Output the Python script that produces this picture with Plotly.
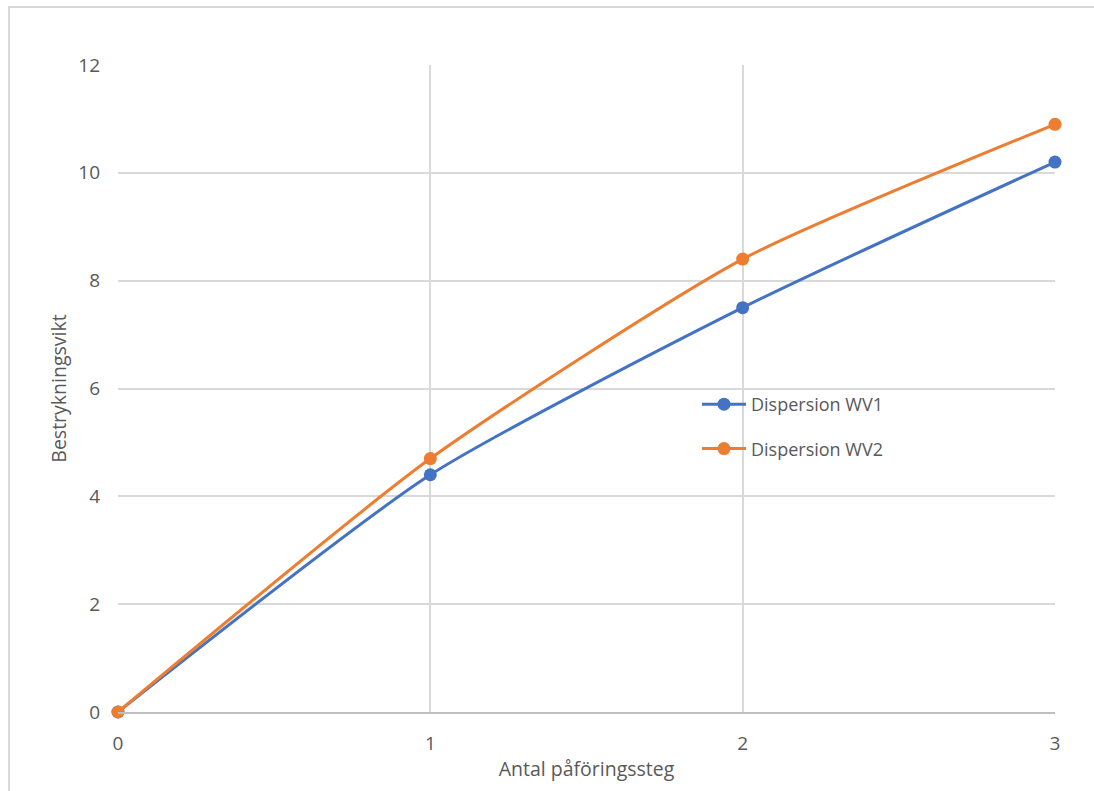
import plotly.graph_objects as go

steps = [0, 1, 2, 3]
wv1 = [0, 4.4, 7.5, 10.2]
wv2 = [0, 4.7, 8.4, 10.9]
series_names = ["Dispersion WV1", "Dispersion WV2"]
series_colors = ["#4472C4", "#ED7D31"]

FONT = "Open Sans, Liberation Sans, sans-serif"
TXT = "#595959"

fig = go.Figure()
for i, (name, ys, col) in enumerate(zip(series_names, [wv1, wv2], series_colors)):
    fig.add_trace(go.Scatter(
        x=steps, y=ys, name=name, mode="lines+markers",
        line=dict(color=col, width=3, shape="spline", smoothing=0.6),
        marker=dict(color=col, size=13),
        legendgroup=f"g{i}", cliponaxis=False,
    ))

W, H = 1094, 791
L, R, T, B = 118, 39, 65, 79
pw, ph = W - L - R, H - T - B

fig.update_layout(
    width=W, height=H,
    margin=dict(l=L, r=R, t=T, b=B),
    paper_bgcolor="white", plot_bgcolor="white",
    font=dict(family=FONT, color=TXT, size=17),
    showlegend=True,
    legend=dict(x=(697 - L) / pw, y=(712 - 386) / ph, xanchor="left", yanchor="top",
                bgcolor="rgba(0,0,0,0)", font=dict(size=18, color=TXT),
                tracegroupgap=18, itemwidth=44),
    xaxis=dict(range=[0, 3], tickvals=steps, ticktext=[str(s) for s in steps],
               showgrid=True, gridcolor="#D9D9D9", gridwidth=1.5,
               showline=True, linecolor="#BFBFBF", linewidth=1.5,
               zeroline=False, ticks="", ticklabelstandoff=13,
               tickfont=dict(size=19),
               title=dict(text="Antal påföringssteg", font=dict(size=19.5, color=TXT), standoff=8)),
    yaxis=dict(range=[0, 12], tickvals=[0, 2, 4, 6, 8, 10, 12],
               showgrid=True, gridcolor="#D9D9D9", gridwidth=1.5,
               showline=False, zeroline=False, ticks="", ticklabelstandoff=17,
               tickfont=dict(size=19),
               title=dict(text="Bestrykningsvikt", font=dict(size=19.5, color=TXT), standoff=6)),
)

# outer chart frame
fig.add_shape(type="rect", xref="paper", yref="paper",
              x0=(9 - L) / pw, x1=(1110 - L) / pw,
              y0=(712 - 810) / ph, y1=(712 - 7) / ph,
              line=dict(color="#D9D9D9", width=2), layer="below")

fig.write_html("out.html")
